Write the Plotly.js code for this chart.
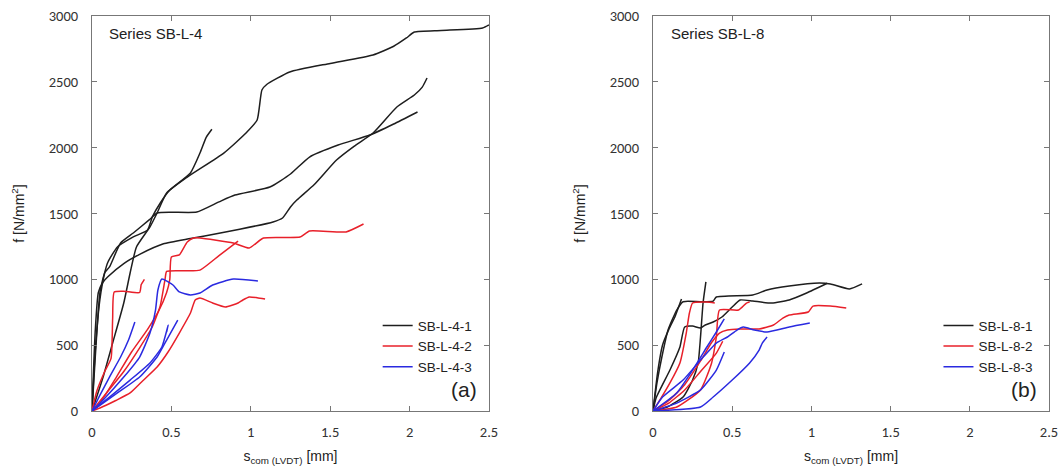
<!DOCTYPE html>
<html><head><meta charset="utf-8">
<script src="https://cdn.plot.ly/plotly-3.0.1.min.js"></script>
<style>html,body{margin:0;padding:0;background:#fff}#chart{width:1062px;height:470px}</style>
</head><body><div id="chart"></div>
<script>
// ---- Series SB-L-4 (panel a) ----
const a_k1_x=[0,0.02,0.05,0.08,0.1,0.16,0.26,0.35,0.38,0.43,0.49,0.62,0.68,0.72,0.755];
const a_k1_y=[0,450,850,1050,1130,1246,1322,1375,1474,1580,1678,1808,1959,2080,2140];
const a_k2_x=[0,0.07,0.13,0.2,0.24,0.28,0.365,0.41,0.47,0.6,0.83,0.97,1.04,1.07,1.1,1.245,1.5,1.77,1.9,1.98,2.03,2.2,2.46,2.5];
const a_k2_y=[0,258,516,820,1048,1246,1398,1504,1656,1777,1959,2111,2210,2438,2480,2575,2640,2704,2770,2833,2878,2890,2909,2932];
const a_k3_x=[0,0.02,0.05,0.08,0.11,0.18,0.26,0.36,0.41,0.5,0.66,0.8,0.9,1.12,1.25,1.37,1.55,1.75,1.9,2.05];
const a_k3_y=[0,400,900,1050,1094,1276,1352,1451,1504,1510,1511,1588,1640,1701,1800,1929,2020,2096,2180,2271];
const a_k4_x=[0,0.02,0.04,0.07,0.1,0.2,0.3,0.45,0.62,0.8,0.93,1.14,1.2,1.25,1.29,1.4,1.54,1.65,1.77,1.92,2.03,2.08,2.11];
const a_k4_y=[0,600,900,980,1020,1120,1190,1270,1310,1350,1380,1436,1466,1550,1602,1720,1906,2010,2111,2309,2400,2460,2529];
const a_r1_x=[0,0.05,0.15,0.25,0.35,0.42,0.47,0.49,0.5,0.55,0.6,0.64,0.68,0.89,0.99,1.08,1.31,1.37,1.6,1.71];
const a_r1_y=[0,60,250,450,620,760,900,1000,1170,1185,1284,1314,1314,1276,1238,1314,1321,1367,1360,1420];
const a_r2_x=[0,0.03,0.08,0.12,0.13,0.14,0.2,0.3,0.31,0.33];
const a_r2_y=[0,150,300,400,700,904,910,900,960,1000];
const a_r3_x=[0,0.1,0.2,0.3,0.38,0.43,0.46,0.47,0.58,0.68,0.8,0.92];
const a_r3_y=[0,150,300,480,640,800,1000,1060,1065,1070,1180,1290];
const a_r4_x=[0,0.05,0.15,0.24,0.32,0.41,0.48,0.55,0.62,0.65,0.68,0.76,0.84,0.92,0.95,0.99,1.04,1.09];
const a_r4_y=[0,23,80,137,230,334,450,592,744,843,858,820,790,820,843,866,860,851];
const a_b1_x=[0,0.07,0.2,0.3,0.365,0.4,0.415,0.44,0.51,0.55,0.62,0.68,0.76,0.89,1.045];
const a_b1_y=[0,84,258,410,592,767,919,1002,957,904,881,896,957,1002,987];
const a_b2_x=[0,0.16,0.3,0.41,0.47,0.54];
const a_b2_y=[0,137,258,410,539,691];
const a_b3_x=[0,0.11,0.24,0.365,0.44,0.48,0.47];
const a_b3_y=[0,106,235,365,486,653,600];
const a_b4_x=[0,0.05,0.11,0.18,0.23,0.27];
const a_b4_y=[0,120,258,410,539,676];
// ---- Series SB-L-8 (panel b) ----
const b_k1_x=[0,0.025,0.056,0.095,0.15,0.19,0.3,0.38,0.4,0.63,0.72,0.86,1.05,1.12,1.24,1.32];
const b_k1_y=[0,213,410,615,767,830,830,835,866,881,919,949,972,965,927,965];
const b_k2_x=[0,0.03,0.06,0.1,0.14,0.18];
const b_k2_y=[0,300,500,620,720,850];
const b_k3_x=[0,0.09,0.19,0.25,0.285,0.3,0.316,0.334];
const b_k3_y=[0,30,106,235,365,562,820,980];
const b_k4_x=[0,0.02,0.107,0.17,0.2,0.25,0.3,0.33,0.38,0.435,0.5,0.55,0.63,0.75,0.86,0.97,1.1];
const b_k4_y=[0,100,311,486,638,645,630,653,676,714,790,843,835,820,843,896,970];
const b_r1_x=[0,0.1,0.2,0.3,0.37,0.42,0.47,0.55,0.67,0.76,0.82,0.86,0.98,1.01,1.12,1.22];
const b_r1_y=[0,80,200,380,520,592,615,623,623,653,706,729,752,797,797,782];
const b_r2_x=[0,0.044,0.107,0.17,0.21,0.23,0.25,0.34,0.39];
const b_r2_y=[0,84,213,365,592,744,820,828,820];
const b_r3_x=[0,0.15,0.3,0.37,0.4,0.42,0.54,0.59,0.61];
const b_r3_y=[0,30,160,365,562,767,767,820,828];
const b_r4_x=[0,0.1,0.2,0.3,0.4,0.44];
const b_r4_y=[0,60,160,300,440,530];
const b_b1_x=[0,0.06,0.19,0.3,0.4,0.47,0.53,0.57,0.64,0.72,0.86,0.99];
const b_b1_y=[0,106,235,387,516,562,615,638,615,600,638,668];
const b_b2_x=[0,0.3,0.38,0.5,0.61,0.67,0.69,0.72];
const b_b2_y=[0,30,106,235,365,463,516,562];
const b_b3_x=[0,0.15,0.25,0.34,0.4,0.45];
const b_b3_y=[0,137,311,486,600,700];
const b_b4_x=[0,0.15,0.3,0.4,0.45];
const b_b4_y=[0,60,160,311,448];

const legendA=['SB-L-4-1','SB-L-4-2','SB-L-4-3'];
const legendB=['SB-L-8-1','SB-L-8-2','SB-L-8-3'];
const xTicks=[0,0.5,1,1.5,2,2.5];
const xTickText=['0','0.5','1','1.5','2','2.5'];
const yTicks=[0,500,1000,1500,2000,2500,3000];

const COLORS=['#1e1e1e','#e8202a','#2a2ae0'];
const traces=[];
function add(x,y,ci,name,panel,show){
  traces.push({x:x,y:y,type:'scatter',mode:'lines',name:name,legendgroup:panel+name,showlegend:show,
    line:{color:COLORS[ci],width:1.5,shape:'spline',smoothing:0.5},
    xaxis:panel==='a'?'x':'x2',yaxis:panel==='a'?'y':'y2',legend:panel==='a'?'legend':'legend2',hoverinfo:'skip'});
}
add(a_k1_x,a_k1_y,0,legendA[0],'a',true);
add(a_k2_x,a_k2_y,0,legendA[0],'a',false);
add(a_k3_x,a_k3_y,0,legendA[0],'a',false);
add(a_k4_x,a_k4_y,0,legendA[0],'a',false);
add(a_r1_x,a_r1_y,1,legendA[1],'a',true);
add(a_r2_x,a_r2_y,1,legendA[1],'a',false);
add(a_r3_x,a_r3_y,1,legendA[1],'a',false);
add(a_r4_x,a_r4_y,1,legendA[1],'a',false);
add(a_b1_x,a_b1_y,2,legendA[2],'a',true);
add(a_b2_x,a_b2_y,2,legendA[2],'a',false);
add(a_b3_x,a_b3_y,2,legendA[2],'a',false);
add(a_b4_x,a_b4_y,2,legendA[2],'a',false);
add(b_k1_x,b_k1_y,0,legendB[0],'b',true);
add(b_k2_x,b_k2_y,0,legendB[0],'b',false);
add(b_k3_x,b_k3_y,0,legendB[0],'b',false);
add(b_k4_x,b_k4_y,0,legendB[0],'b',false);
add(b_r1_x,b_r1_y,1,legendB[1],'b',true);
add(b_r2_x,b_r2_y,1,legendB[1],'b',false);
add(b_r3_x,b_r3_y,1,legendB[1],'b',false);
add(b_r4_x,b_r4_y,1,legendB[1],'b',false);
add(b_b1_x,b_b1_y,2,legendB[2],'b',true);
add(b_b2_x,b_b2_y,2,legendB[2],'b',false);
add(b_b3_x,b_b3_y,2,legendB[2],'b',false);
add(b_b4_x,b_b4_y,2,legendB[2],'b',false);

const tickFont={family:'Carlito, "Open Sans", "Liberation Sans", sans-serif',size:14.5,color:'#333'};
const titleFont={family:'"Liberation Sans", Arial, sans-serif',size:14,color:'#222'};
function xa(domain,anchor){return {domain:domain,anchor:anchor,range:[0,2.5],tickvals:xTicks,ticktext:xTickText,
  ticks:'inside',ticklen:5,tickcolor:'#777',showline:true,linecolor:'#777',linewidth:1,mirror:'ticks',
  showgrid:false,zeroline:false,tickfont:tickFont,ticklabelstandoff:8,
  title:{text:'s<sub>com (LVDT)</sub> [mm]',font:titleFont,standoff:10}};}
function ya(anchor){return {anchor:anchor,domain:[0,1],range:[0,3000],tickvals:yTicks,
  ticks:'inside',ticklen:5,tickcolor:'#777',showline:true,linecolor:'#777',linewidth:1,mirror:'ticks',
  showgrid:false,zeroline:false,tickfont:tickFont,ticklabelstandoff:10,
  title:{text:'f [N/mm<sup>2</sup>]',font:titleFont,standoff:20}};}
const legFont={family:'"Liberation Sans", Arial, sans-serif',size:13.5,color:'#222'};
const layout={
  width:1062,height:470,margin:{l:92,r:13,t:16,b:59},paper_bgcolor:'#fff',plot_bgcolor:'#fff',
  xaxis:xa([0,0.4148],'y'),yaxis:ya('x'),
  xaxis2:xa([0.5862,1],'y2'),yaxis2:ya('x2'),
  legend:{x:0.403,xanchor:'right',y:0.255,yanchor:'top',font:legFont,bgcolor:'rgba(0,0,0,0)',tracegroupgap:0,itemwidth:30},
  legend2:{x:0.989,xanchor:'right',y:0.255,yanchor:'top',font:legFont,bgcolor:'rgba(0,0,0,0)',tracegroupgap:0,itemwidth:30},
  showlegend:true,
  annotations:[
    {xref:'paper',yref:'paper',x:0.016,y:0.955,xanchor:'left',yanchor:'middle',text:'Series SB-L-4',showarrow:false,font:{family:'"Liberation Sans", Arial, sans-serif',size:15,color:'#222'}},
    {xref:'paper',yref:'paper',x:0.603,y:0.955,xanchor:'left',yanchor:'middle',text:'Series SB-L-8',showarrow:false,font:{family:'"Liberation Sans", Arial, sans-serif',size:15,color:'#222'}},
    {xref:'paper',yref:'paper',x:0.404,y:0.055,xanchor:'right',yanchor:'middle',text:'(a)',showarrow:false,font:{family:'"Liberation Sans", Arial, sans-serif',size:21,color:'#222'}},
    {xref:'paper',yref:'paper',x:0.99,y:0.055,xanchor:'right',yanchor:'middle',text:'(b)',showarrow:false,font:{family:'"Liberation Sans", Arial, sans-serif',size:21,color:'#222'}}
  ]
};
Plotly.newPlot('chart',traces,layout,{staticPlot:true,displayModeBar:false});
</script></body></html>
